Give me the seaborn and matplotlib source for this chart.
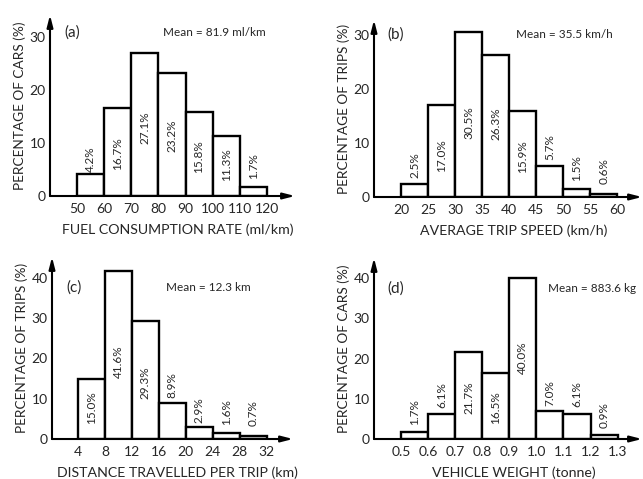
import numpy as np
import pandas as pd
import matplotlib
matplotlib.use("Agg")
import matplotlib.pyplot as plt
import seaborn as sns

# ---------------- data ----------------
fuel_edges = [50, 60, 70, 80, 90, 100, 110, 120]
fuel_pct = [4.2, 16.7, 27.1, 23.2, 15.8, 11.3, 1.7]

speed_edges = [20, 25, 30, 35, 40, 45, 50, 55, 60]
speed_pct = [2.5, 17.0, 30.5, 26.3, 15.9, 5.7, 1.5, 0.6]

dist_edges = [4, 8, 12, 16, 20, 24, 28, 32]
dist_pct = [15.0, 41.6, 29.3, 8.9, 2.9, 1.6, 0.7]

weight_edges = [0.5, 0.6, 0.7, 0.8, 0.9, 1.0, 1.1, 1.2, 1.3]
weight_pct = [1.7, 6.1, 21.7, 16.5, 40.0, 7.0, 6.1, 0.9]

fuel_ticks = ["50", "60", "70", "80", "90", "100", "110", "120"]
speed_ticks = ["20", "25", "30", "35", "40", "45", "50", "55", "60"]
dist_ticks = ["4", "8", "12", "16", "20", "24", "28", "32"]
weight_ticks = ["0.5", "0.6", "0.7", "0.8", "0.9", "1.0", "1.1", "1.2", "1.3"]

# label vertical positions (styling)
fuel_lab_y = [7.0, 8.1, 13.0, 11.3, 7.5, 5.9, 5.7]
speed_lab_y = [5.9, 7.6, 13.7, 13.5, 7.4, 9.3, 5.4, 4.8]
dist_lab_y = [7.7, 19.1, 14.1, 13.3, 7.2, 6.7, 6.4]
weight_lab_y = [6.7, 10.9, 10.2, 7.7, 20.1, 11.4, 11.1, 6.0]

# ---------------- style ----------------
sns.set_style("white")
plt.rcParams["font.family"] = ["Lato", "DejaVu Sans"]

fig = plt.figure(figsize=(6.43, 4.79), dpi=100)
W, H = 643.0, 479.0


def make_ax(left, right, yzero, ytop):
    return fig.add_axes([left / W, (H - yzero) / H, (right - left) / W, (yzero - ytop) / H])


panels = [
    dict(box=(50, 295, 196, 15), edges=fuel_edges, vals=fuel_pct, ticks=fuel_ticks,
         laby=fuel_lab_y, xlim=(40.0, 130.4), ylim=34.2, yt=[0, 10, 20, 30],
         xlabel="FUEL CONSUMPTION RATE (ml/km)", ylabel="PERCENTAGE OF CARS (%)",
         tag="(a)", tagpos=(0.06, 0.905), mean="Mean = 81.9 ml/km", meanpos=(0.67, 0.905)),
    dict(box=(374, 642, 197, 20), edges=speed_edges, vals=speed_pct, ticks=speed_ticks,
         laby=speed_lab_y, xlim=(15.0, 64.6), ylim=32.8, yt=[0, 10, 20, 30],
         xlabel="AVERAGE TRIP SPEED (km/h)", ylabel="PERCENTAGE OF TRIPS (%)",
         tag="(b)", tagpos=(0.05, 0.92), mean="Mean = 35.5 km/h", meanpos=(0.71, 0.92)),
    dict(box=(52, 293, 439, 257), edges=dist_edges, vals=dist_pct, ticks=dist_ticks,
         laby=dist_lab_y, xlim=(0.15, 35.9), ylim=45.2, yt=[0, 10, 20, 30, 40],
         xlabel="DISTANCE TRAVELLED PER TRIP (km)", ylabel="PERCENTAGE OF TRIPS (%)",
         tag="(c)", tagpos=(0.06, 0.83), mean="Mean = 12.3 km", meanpos=(0.65, 0.83)),
    dict(box=(374, 642, 439, 258), edges=weight_edges, vals=weight_pct, ticks=weight_ticks,
         laby=weight_lab_y, xlim=(0.40, 1.39), ylim=45.0, yt=[0, 10, 20, 30, 40],
         xlabel="VEHICLE WEIGHT (tonne)", ylabel="PERCENTAGE OF CARS (%)",
         tag="(d)", tagpos=(0.05, 0.83), mean="Mean = 883.6 kg", meanpos=(0.815, 0.83)),
]

for p in panels:
    ax = make_ax(*p["box"])
    edges = [float(e) for e in p["edges"]]
    centers = [(a + b) / 2 for a, b in zip(edges[:-1], edges[1:])]
    df = pd.DataFrame({"x": centers, "w": p["vals"]})
    sns.histplot(data=df, x="x", weights="w", bins=edges, ax=ax, stat="count",
                 color="white", edgecolor="black", linewidth=1.7, alpha=1.0)
    ax.set_xlim(*p["xlim"])
    ax.set_ylim(0, p["ylim"])
    ax.set_xticks(edges)
    ax.set_xticklabels(p["ticks"], fontsize=10)
    ax.set_yticks(p["yt"])
    ax.set_yticklabels([str(v) for v in p["yt"]], fontsize=10)
    ax.tick_params(axis="x", length=0, pad=5)
    ax.tick_params(axis="y", direction="in", length=4, width=1.2, pad=3)
    for s in ax.spines.values():
        s.set_visible(False)
    ax.set_xlabel(p["xlabel"], fontsize=10.2, labelpad=6)
    ax.set_ylabel(p["ylabel"], fontsize=9.8, labelpad=3)
    ax.xaxis.label.set_x(0.52)
    # axis arrows
    ax.annotate("", xy=(1, 0), xytext=(0, 0), xycoords="axes fraction",
                arrowprops=dict(arrowstyle="-|>,head_width=0.18,head_length=0.7",
                                color="black", lw=1.5, shrinkA=0, shrinkB=0),
                annotation_clip=False)
    ax.annotate("", xy=(0, 1), xytext=(0, 0), xycoords="axes fraction",
                arrowprops=dict(arrowstyle="-|>,head_width=0.18,head_length=0.7",
                                color="black", lw=1.5, shrinkA=0, shrinkB=0),
                annotation_clip=False)
    for c, v, ly in zip(centers, p["vals"], p["laby"]):
        ax.text(c, ly, f"{v:.1f}%", rotation=90, ha="center", va="center", fontsize=8.5)
    ax.text(*p["tagpos"], p["tag"], transform=ax.transAxes, ha="left", va="center",
            fontsize=11)
    ax.text(*p["meanpos"], p["mean"], transform=ax.transAxes, ha="center", va="center",
            fontsize=8.5)

fig.savefig("out.png", dpi=100)
